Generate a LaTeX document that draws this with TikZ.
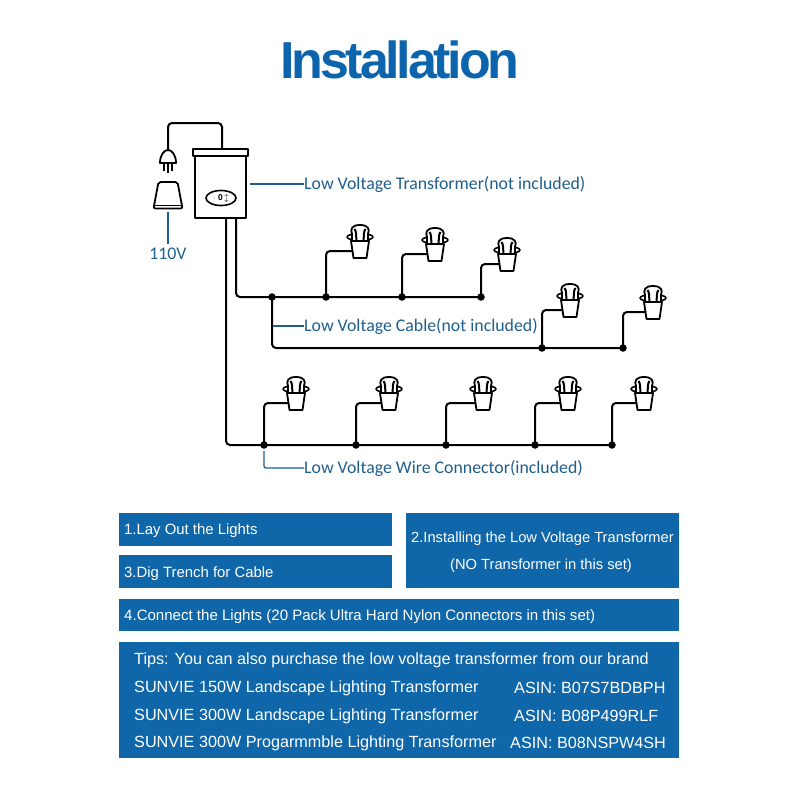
\documentclass[tikz,border=0pt]{standalone}
\usepackage{fontspec}
\setmainfont{Liberation Sans}
\newfontfamily\labelfont{Carlito}
\newfontfamily\titlefont[LetterSpace=-6.2]{Liberation Sans}
\usepackage{xcolor}
\usetikzlibrary{shapes.geometric}
\definecolor{titleblue}{HTML}{0B64AC}
\definecolor{panelblue}{HTML}{0F66A9}
\definecolor{leaderblue}{HTML}{1F5F8F}
\tikzset{
  wire/.style={black,line width=2pt,rounded corners=4pt},
  leader/.style={leaderblue,line width=1.3pt},
  part/.style={black,line width=1.8pt,line join=round},
  joint/.style={circle,fill=black,inner sep=0pt,minimum size=7.5pt},
  callout/.style={text=leaderblue,font=\labelfont\fontsize{17.8}{20}\selectfont,inner sep=0pt,anchor=west},
  panel/.style={fill=panelblue,inner sep=0pt,anchor=north west},
  paneltext/.style={text=white,font=\fontsize{14.9}{17}\selectfont,inner sep=0pt,anchor=west},
  tipstext/.style={paneltext,font=\fontsize{16.2}{19}\selectfont},
  lamp/.pic={
    \coordinate (-in) at (-7,0);
    \draw[part,line width=1.6pt] (0,-14) ellipse (13 and 3.5);
    \draw[part,fill=white] (-8,-10) -- (-8,-17) .. controls (-10,-22) and (-8,-26) .. (0,-26) .. controls (8,-26) and (10,-22) .. (8,-17) -- (8,-10) -- cycle;
    \draw[part,line width=2pt] (-5.5,-22) .. controls (-3.5,-20) and (-4,-15) .. (-3.5,-10);
    \draw[part,line width=2pt] (5.5,-22) .. controls (3.5,-20) and (4,-15) .. (3.5,-10);
    \draw[part,fill=white] (-9,-10) -- (9,-10) -- (6.5,7) -- (-6.5,7) -- cycle;
  }
}
\begin{document}
\begin{tikzpicture}[x=1pt,y=-1pt]
  \useasboundingbox (0,0) rectangle (800,800);
  \fill[white] (0,0) rectangle (800,800);
  \node[text=titleblue,font=\titlefont\bfseries\fontsize{52}{56}\selectfont,inner sep=0pt] (title) at (400,60) {Installation};
  % ---------------- mains side
  \draw[part] (193,149) rectangle (248,156);
  \draw[part] (195,156) rectangle (246,218);
  \node[draw,ellipse,line width=1.6pt,minimum width=30pt,minimum height=15pt,inner sep=0pt,font=\bfseries\fontsize{8.5}{8.5}\selectfont] (dial) at (221,198) {$\cdot$ 0\,$\updownarrow$};
  \coordinate (boxtop) at (222,149);
  \coordinate (plugtop) at (168,150);
  \draw[wire] (boxtop) |- (168,123) -- (plugtop);
  \draw[part,fill=white] (160,163) .. controls (160,155) and (164,150) .. (168,150) .. controls (172,150) and (176,155) .. (176,163) -- cycle;
  \draw[part] (164,163) -- (164,171) (168,163) -- (168,173) (172,163) -- (172,171);
  \draw[part,rounded corners=2pt] (158.5,182) -- (177.5,182) -- (182.5,208.5) -- (153.5,208.5) -- cycle;
  \draw[part,line width=1pt] (155,205) -- (181,205);
  \coordinate (socketlow) at (168,212);
  \node[callout,anchor=center] (volts) at (168,254) {110V};
  \draw[leader] (socketlow) -- (168,244);
  % ---------------- callouts
  \node[callout] (xfmrlabel) at (304,185) {Low Voltage Transformer(not included)};
  \node[callout] (cablelabel) at (304,327) {Low Voltage Cable(not included)};
  \node[callout] (connlabel) at (304,469) {Low Voltage Wire Connector(included)};
  \coordinate (xfmrside) at (250,184);
  \draw[leader] (xfmrside) -- (xfmrlabel.west |- xfmrside);
  % ---------------- upper run
  \coordinate (boxoutb) at (236,218);
  \coordinate (boxouta) at (226,218);
  \node[joint] (ja) at (272,297) {};
  \node[joint] (jb) at (326,297) {};
  \node[joint] (jc) at (402,297) {};
  \node[joint] (jd) at (481,297) {};
  \draw[wire] (boxoutb) |- (ja.center) -- (jd.center);
  \pic (la) at (360,251) {lamp};
  \pic (lb) at (435,254) {lamp};
  \pic (lc) at (507,264) {lamp};
  \draw[wire] (jb.center) |- (la-in);
  \draw[wire] (jc.center) |- (lb-in);
  \draw[wire] (jd.center) |- (lc-in);
  % ---------------- branch run
  \node[joint] (je) at (542,348) {};
  \node[joint] (jf) at (623,348) {};
  \draw[wire] (ja.center) |- (jf.center);
  \pic (ld) at (570,310) {lamp};
  \pic (le) at (653,312) {lamp};
  \draw[wire] (je.center) |- (ld-in);
  \draw[wire] (jf.center) |- (le-in);
  \coordinate (cablemark) at (273,326);
  \draw[leader] (cablemark) -- (cablelabel.west |- cablemark);
  % ---------------- lower run
  \node[joint] (jg) at (264,445) {};
  \node[joint] (jh) at (356,445) {};
  \node[joint] (ji) at (446,445) {};
  \node[joint] (jj) at (535,445) {};
  \node[joint] (jk) at (612,445) {};
  \draw[wire] (boxouta) |- (jg.center) -- (jk.center);
  \pic (lf) at (296,403) {lamp};
  \pic (lg) at (389,403) {lamp};
  \pic (lh) at (483,403) {lamp};
  \pic (li) at (568,403) {lamp};
  \pic (lj) at (644,403) {lamp};
  \draw[wire] (jg.center) |- (lf-in);
  \draw[wire] (jh.center) |- (lg-in);
  \draw[wire] (ji.center) |- (lh-in);
  \draw[wire] (jj.center) |- (li-in);
  \draw[wire] (jk.center) |- (lj-in);
  \coordinate (connmark) at (264,451);
  \draw[leader,rounded corners=2pt] (connmark) |- (connlabel.west |- 0,468);
  % ---------------- panels
  \node[panel,minimum width=273pt,minimum height=33pt] (layout) at (119,513) {};
  \node[paneltext] (layouttext) at (124,531) {1.Lay Out the Lights};
  \node[panel,minimum width=273pt,minimum height=33pt] (trench) at (119,555) {};
  \node[paneltext] (trenchtext) at (124,574) {3.Dig Trench for Cable};
  \node[panel,minimum width=273pt,minimum height=75pt] (install) at (406,513) {};
  \node[paneltext,anchor=center,font=\fontsize{14.7}{17}\selectfont] (installtexta) at (542.5,539) {2.Installing the Low Voltage Transformer};
  \node[paneltext,anchor=center,font=\fontsize{14.7}{17}\selectfont] (installtextb) at (541,566) {(NO Transformer in this set)};
  \node[panel,minimum width=560pt,minimum height=32pt] (connect) at (119,599) {};
  \node[paneltext,font=\fontsize{15.05}{17}\selectfont] (connecttext) at (124,617) {4.Connect the Lights (20 Pack Ultra Hard Nylon Connectors in this set)};
  \node[panel,minimum width=560pt,minimum height=116pt] (tips) at (119,642) {};
  \node[tipstext] (tipslead) at (134,660) {Tips: You can also purchase the low voltage transformer from our brand};
  \node[tipstext] (branda) at (134,688) {SUNVIE 150W Landscape Lighting Transformer};
  \node[tipstext] (asina) at (514,688) {ASIN: B07S7BDBPH};
  \node[tipstext] (brandb) at (134,716) {SUNVIE 300W Landscape Lighting Transformer};
  \node[tipstext] (asinb) at (514,716) {ASIN: B08P499RLF};
  \node[tipstext] (brandc) at (134,743) {SUNVIE 300W Progarmmble Lighting Transformer};
  \node[tipstext] (asinc) at (510,743) {ASIN: B08NSPW4SH};
\end{tikzpicture}
\end{document}
